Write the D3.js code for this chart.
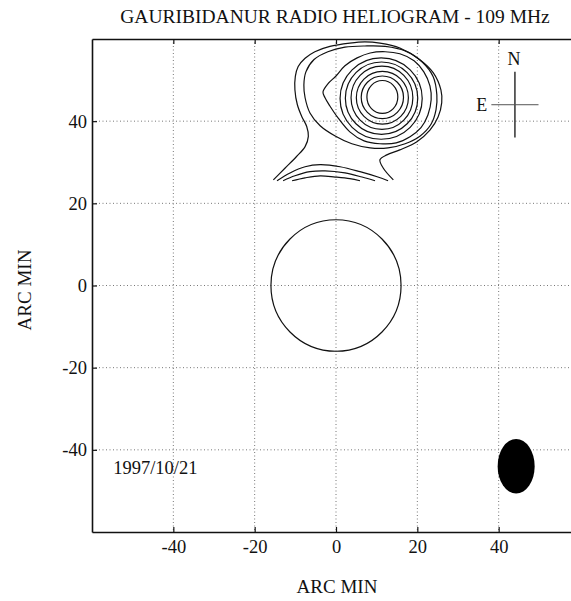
<!DOCTYPE html>
<html>
<head>
<meta charset="utf-8">
<script src="https://cdn.jsdelivr.net/npm/d3@7/dist/d3.min.js"></script>
<style>
body{margin:0;background:#fff;}
.canvas{width:571px;height:601px;}
text{font-family:"Liberation Serif","Times New Roman",serif;fill:#111;}
.grid line{stroke:#777;stroke-width:1;stroke-dasharray:1,2.5;}
.axis path{stroke:#111;stroke-width:1.6;}
.axis line{stroke:#111;stroke-width:1.2;}
.contour{fill:none;stroke:#111;stroke-width:1.2;}
</style>
</head>
<body>
<div id="canvas" class="canvas"></div>
<script>
//tick values (arc min)
var xTicks = [-40,-20,0,20,40];
var yTicks = [-40,-20,0,20,40];

//optical sun: centre and radius in arc min
var sunCentre = [0,0];
var sunRadius = 16;

//inner rings of the burst source, centre and radii in arc min
var ringCentreX = [11.4,11.4,11.4,11.3,11.2,11.1];
var ringCentreY = [45.9,45.8,45.7,45.7,45.6,45.5];
var ringRadiusX = [3.8,5.2,6.4,7.6,8.9,10.1];
var ringRadiusY = [4.0,5.2,6.4,7.7,8.8,9.9];

//contour with the pointed nose on the east side
var contourNose = [[-3.2,47.1],[-2.0,49.1],[0.0,51.0],[2.2,53.5],[5.2,55.4],[8.4,56.6],[12.1,56.9],
    [15.7,56.4],[19.2,54.7],[21.6,52.0],[23.1,48.6],[23.4,45.2],[22.6,41.5],[20.9,38.4],[18.2,36.2],
    [14.8,34.7],[10.8,34.5],[6.9,35.2],[3.4,37.4],[0.5,40.8],[-1.5,43.7],[-2.7,45.7]];

//lobe contour
var contourLobe = [[-7.4,52.0],[-5.4,55.0],[-2.0,56.9],[2.2,58.0],[7.1,58.3],[12.1,58.2],[17.0,57.1],
    [21.2,54.4],[23.9,50.8],[24.8,46.4],[24.6,42.8],[23.4,39.3],[20.7,36.4],[17.0,34.5],[12.8,33.5],
    [8.4,33.5],[3.9,34.5],[-0.2,36.4],[-3.9,38.9],[-6.4,42.0],[-7.6,45.7],[-7.9,48.8]];

//outer contour, open at the lower map edge
var contourOuter = [[-15.4,25.7],[-12.5,28.6],[-9.7,31.4],[-7.6,33.8],[-6.8,36.3],[-7.2,38.7],
    [-8.4,41.1],[-9.5,44.0],[-10.1,47.6],[-10.0,50.9],[-9.3,53.3],[-7.6,55.3],[-5.2,56.9],[-1.5,58.2],
    [3.4,59.0],[7.1,59.3],[10.8,59.0],[15.7,57.8],[20.7,54.9],[23.9,51.8],[25.8,47.6],[26.0,44.5],
    [25.1,41.0],[23.1,37.8],[19.9,35.0],[15.7,33.0],[12.5,31.8],[10.8,30.6],[11.6,28.6],[14.1,25.7]];

//arcs along the lower map edge
var fanA = [[-14.5,25.5],[-11.3,27.4],[-7.6,28.9],[-3.9,29.4],[1.0,28.9],[5.9,27.7],[10.3,26.4],[12.8,25.5]];
var fanB = [[-13.0,25.5],[-10.1,26.7],[-6.4,27.7],[-2.7,27.9],[2.2,27.4],[6.4,26.4],[9.6,25.5]];
var fanC = [[-10.8,25.5],[-7.6,26.2],[-3.9,26.7],[-0.2,26.4],[3.4,26.0],[5.9,25.5]];

//beam and compass (arc min)
var beamCentre = [44.3,-44];
var beamRadii = [4.55,6.65];
var compassCentre = [44,44];
var compassArms = [5.8,8];
var dateLabel = '1997/10/21';

//margin convention
var m = {t:39,r:0,b:69,l:92};
var outerWidth = 571,
    outerHeight = 601;
var w = 488,
    h = 493;

var svg = d3.select('.canvas')
    .append('svg')
    .attr('width',outerWidth)
    .attr('height',outerHeight);

var plot = svg.append('g')
    .attr('transform','translate(' + m.l + ',' + m.t + ')');

var scaleX = d3.scaleLinear()
    .domain([-60,60])
    .range([0,w]);
var scaleY = d3.scaleLinear()
    .domain([-60,60])
    .range([h,0]);

//grid
var grid = plot.append('g').attr('class','grid');
grid.selectAll('.gx')
    .data(xTicks)
    .enter()
    .append('line')
    .attr('x1',function(d){return scaleX(d)})
    .attr('x2',function(d){return scaleX(d)})
    .attr('y1',0)
    .attr('y2',h);
grid.selectAll('.gy')
    .data(yTicks)
    .enter()
    .append('line')
    .attr('x1',0)
    .attr('x2',w)
    .attr('y1',function(d){return scaleY(d)})
    .attr('y2',function(d){return scaleY(d)});

//draw axis
var fmt = function(d){return String(d)};
var axisX = d3.axisBottom(scaleX).tickValues(xTicks).tickSize(-5).tickSizeOuter(0).tickPadding(8).tickFormat(fmt);
var axisY = d3.axisLeft(scaleY).tickValues(yTicks).tickSize(-5).tickSizeOuter(0).tickPadding(5).tickFormat(fmt);
var axisTop = d3.axisTop(scaleX).tickValues(xTicks).tickSize(-5).tickSizeOuter(0).tickFormat('');

plot.append('g')
    .attr('class','axis axis-x')
    .attr('transform','translate(0,' + h + ')')
    .call(axisX);
plot.append('g')
    .attr('class','axis axis-y')
    .call(axisY);
plot.append('g')
    .attr('class','axis axis-top')
    .call(axisTop);

plot.selectAll('.axis text')
    .attr('font-family','Liberation Serif')
    .attr('font-size',18.5)
    .style('fill','#111');

//sun
plot.append('ellipse')
    .attr('class','contour')
    .attr('cx',scaleX(sunCentre[0]))
    .attr('cy',scaleY(sunCentre[1]))
    .attr('rx',scaleX(sunRadius) - scaleX(0))
    .attr('ry',scaleY(0) - scaleY(sunRadius));

//rings
plot.selectAll('.ring')
    .data(ringRadiusX)
    .enter()
    .append('ellipse')
    .attr('class','contour ring')
    .attr('cx',function(d,i){return scaleX(ringCentreX[i])})
    .attr('cy',function(d,i){return scaleY(ringCentreY[i])})
    .attr('rx',function(d){return scaleX(d) - scaleX(0)})
    .attr('ry',function(d,i){return scaleY(0) - scaleY(ringRadiusY[i])});

var lineClosed = d3.line()
    .x(function(d){return scaleX(d[0])})
    .y(function(d){return scaleY(d[1])})
    .curve(d3.curveCatmullRomClosed);
var lineOpen = d3.line()
    .x(function(d){return scaleX(d[0])})
    .y(function(d){return scaleY(d[1])})
    .curve(d3.curveCatmullRom);

plot.selectAll('.closed')
    .data([contourNose,contourLobe])
    .enter()
    .append('path')
    .attr('class','contour closed')
    .attr('d',lineClosed);
plot.selectAll('.open')
    .data([contourOuter,fanA,fanB,fanC])
    .enter()
    .append('path')
    .attr('class','contour open')
    .attr('d',lineOpen);

//beam
plot.append('ellipse')
    .attr('cx',scaleX(beamCentre[0]))
    .attr('cy',scaleY(beamCentre[1]))
    .attr('rx',scaleX(beamRadii[0]) - scaleX(0))
    .attr('ry',scaleY(0) - scaleY(beamRadii[1]))
    .style('fill','#000');

//compass
plot.append('line')
    .attr('x1',scaleX(compassCentre[0]))
    .attr('x2',scaleX(compassCentre[0]))
    .attr('y1',scaleY(compassCentre[1] + compassArms[1]))
    .attr('y2',scaleY(compassCentre[1] - compassArms[1]))
    .style('stroke','#111')
    .style('stroke-width',1.3);
plot.append('line')
    .attr('x1',scaleX(compassCentre[0] - compassArms[0]))
    .attr('x2',scaleX(compassCentre[0] + compassArms[0]))
    .attr('y1',scaleY(compassCentre[1]))
    .attr('y2',scaleY(compassCentre[1]))
    .style('stroke','#555')
    .style('stroke-width',1);
plot.append('text')
    .text('N')
    .attr('x',scaleX(compassCentre[0]) - 1)
    .attr('y',scaleY(compassCentre[1] + compassArms[1]) - 7)
    .attr('text-anchor','middle')
    .attr('font-size',18);
plot.append('text')
    .text('E')
    .attr('x',scaleX(compassCentre[0] - compassArms[0]) - 4)
    .attr('y',scaleY(compassCentre[1]) + 6)
    .attr('text-anchor','end')
    .attr('font-size',18);

//date
plot.append('text')
    .text(dateLabel)
    .attr('x',scaleX(-54.8))
    .attr('y',scaleY(-45.8))
    .attr('font-size',18.5);

//titles
svg.append('text')
    .text('GAURIBIDANUR RADIO HELIOGRAM - 109 MHz')
    .attr('x',335)
    .attr('y',23)
    .attr('text-anchor','middle')
    .attr('font-size',19.5);
svg.append('text')
    .text('ARC MIN')
    .attr('x',337)
    .attr('y',593)
    .attr('text-anchor','middle')
    .attr('font-size',19);
svg.append('text')
    .text('ARC MIN')
    .attr('transform','translate(31,290) rotate(-90)')
    .attr('text-anchor','middle')
    .attr('font-size',19);
</script>
</body>
</html>
